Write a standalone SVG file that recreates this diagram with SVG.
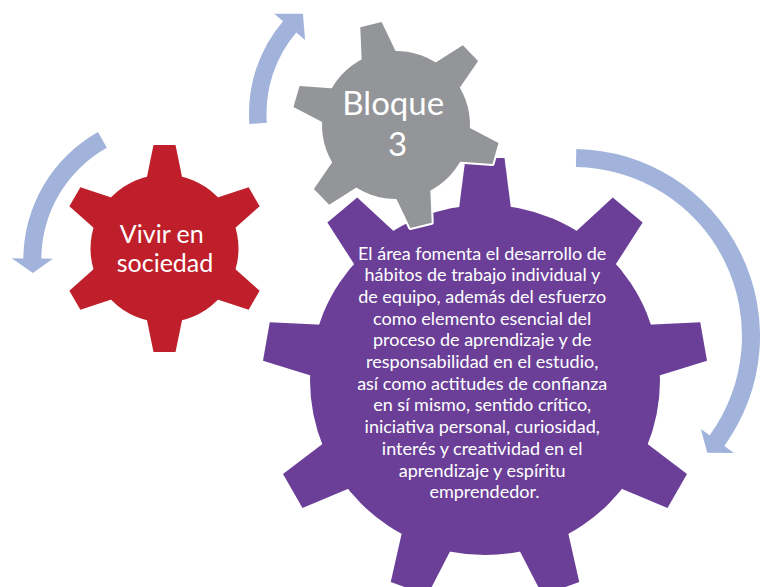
<svg xmlns="http://www.w3.org/2000/svg" xmlns:xlink="http://www.w3.org/1999/xlink" width="760" height="587" viewBox="0 0 760 587">
<style>
.arrow{fill:#A1B3DB}
.lbl{fill:#ffffff;font-family:Lato,"Open Sans","DejaVu Sans",sans-serif;text-anchor:middle}
</style>
<defs>
<path id="t6" d="M-18.7,-66 L-11,-103.5 L11,-103.5 L18.7,-66Z"/>
<path id="t9" d="M-26.8,-165 L-19.5,-222 L19.5,-222 L26.8,-165Z"/>
<g id="g6">
<circle r="74"/>
<use href="#t6"/>
<use href="#t6" transform="rotate(60)"/>
<use href="#t6" transform="rotate(120)"/>
<use href="#t6" transform="rotate(180)"/>
<use href="#t6" transform="rotate(240)"/>
<use href="#t6" transform="rotate(300)"/>
</g>
<g id="g9">
<circle r="175"/>
<use href="#t9"/>
<use href="#t9" transform="rotate(40)"/>
<use href="#t9" transform="rotate(80)"/>
<use href="#t9" transform="rotate(120)"/>
<use href="#t9" transform="rotate(160)"/>
<use href="#t9" transform="rotate(200)"/>
<use href="#t9" transform="rotate(240)"/>
<use href="#t9" transform="rotate(280)"/>
<use href="#t9" transform="rotate(320)"/>
</g>
</defs>
<rect width="760" height="587" fill="#ffffff"/>

<g id="gear-area">
<use href="#g9" transform="translate(485,380)" fill="#6B3F98"/>
<text class="lbl" font-size="18">
<tspan x="484.5" y="259.5">El área fomenta el desarrollo de</tspan>
<tspan x="484.5" y="281.2">hábitos de trabajo individual y</tspan>
<tspan x="484.5" y="302.9">de equipo, además del esfuerzo</tspan>
<tspan x="484.5" y="324.6">como elemento esencial del</tspan>
<tspan x="484.5" y="346.3">proceso de aprendizaje y de</tspan>
<tspan x="484.5" y="368">responsabilidad en el estudio,</tspan>
<tspan x="484.5" y="389.7">así como actitudes de confianza</tspan>
<tspan x="484.5" y="411.4">en sí mismo, sentido crítico,</tspan>
<tspan x="484.5" y="433.1">iniciativa personal, curiosidad,</tspan>
<tspan x="484.5" y="454.8">interés y creatividad en el</tspan>
<tspan x="484.5" y="476.5">aprendizaje y espíritu</tspan>
<tspan x="484.5" y="498.2">emprendedor.</tspan>
</text>
</g>

<g id="gear-bloque">
<g transform="translate(396,125) rotate(-14)">
<use href="#g6" fill="#939598" stroke="#ffffff" stroke-width="4" stroke-linejoin="round"/>
<use href="#g6" fill="#939598"/>
</g>
<text class="lbl" font-size="33">
<tspan x="397.5" y="115">Bloque</tspan>
<tspan x="397.5" y="156">3</tspan>
</text>
</g>

<g id="gear-vivir">
<use href="#g6" transform="translate(164.5,248.5)" fill="#BF1F2B"/>
<text class="lbl" font-size="25">
<tspan x="165" y="243">Vivir en</tspan>
<tspan x="165" y="271.7">sociedad</tspan>
</text>
</g>

<g id="connectors">
<path class="arrow" d="M98,132 A146.5,146.5 0 0 0 23.3,258.4 L11.8,258.3 L32.9,272.9 L52.8,258.7 L41.3,258.6 A128.5,128.5 0 0 1 106.8,147.7 Z"/>
<path class="arrow" d="M249.4,124.05 A142,142 0 0 1 283,21.2 L274.3,13.7 L302.9,13.8 L305.1,40 L296.3,32.55 A124.5,124.5 0 0 0 266.85,122.73 Z"/>
<path class="arrow" d="M576.3,149 A187,187 0 0 1 724.3,445.9 L734,453 L707.3,452.8 L700.8,428.9 L709.7,435.3 A169,169 0 0 0 575.9,167 Z"/>
</g>
</svg>
